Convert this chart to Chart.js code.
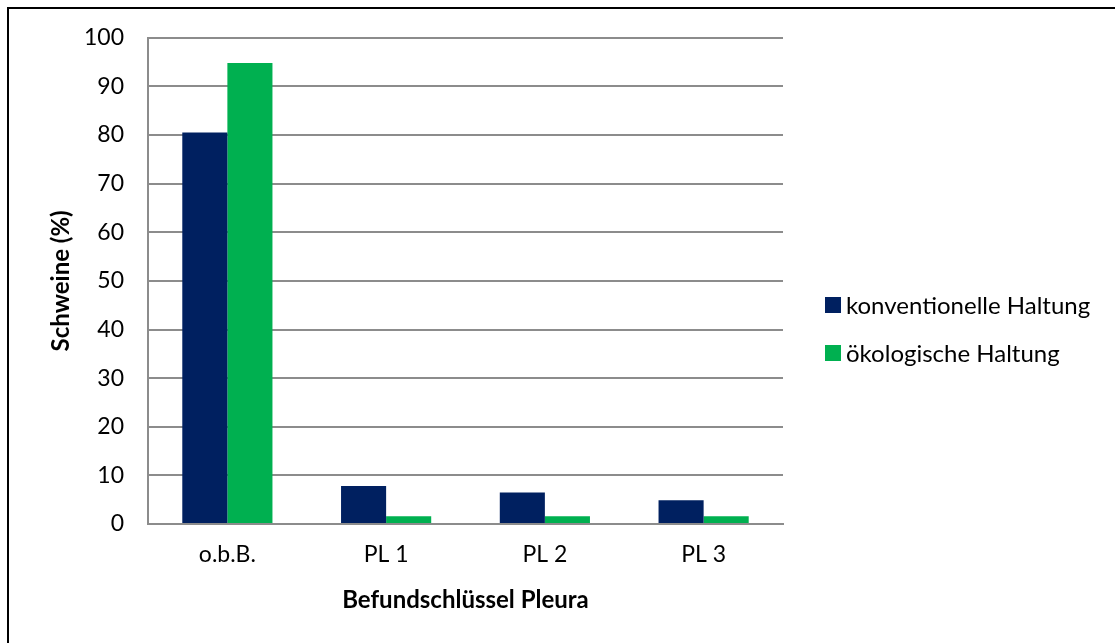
<!DOCTYPE html>
<html>
<head>
<meta charset="utf-8">
<script src="https://cdn.jsdelivr.net/npm/chart.js@4.4.1/dist/chart.umd.min.js"></script>
<style>
  html, body { margin: 0; padding: 0; background: #fff; }
  #wrap { position: relative; width: 1115px; height: 643px; overflow: hidden; }
  /* frame lines top + left */
  #frame { position: absolute; left: 7px; top: 7px; right: -10px; bottom: -10px;
           border-top: 2px solid #000; border-left: 2px solid #000; pointer-events: none; }
  canvas { position: absolute; left: 0; top: 0; }
</style>
</head>
<body>
<div id="wrap">
  <canvas id="chart" width="1115" height="643"></canvas>
  <div id="frame"></div>
</div>
<script>
// categories and values (percent of pigs)
const categories = ["o.b.B.", "PL 1", "PL 2", "PL 3"];
const konventionell = [80.5, 7.8, 6.5, 4.9];
const oekologisch = [94.8, 1.6, 1.6, 1.6];
const seriesNames = ["konventionelle Haltung", "ökologische Haltung"];
const yTicks = [0, 10, 20, 30, 40, 50, 60, 70, 80, 90, 100];

const FONT = "Lato, Calibri, 'Open Sans', sans-serif";
const BLUE = "#002060";
const GREEN = "#00B050";
const GRID = "#8c8c8c";

// legend drawn at the right side, outside the plot
const sideLegend = {
    id: "sideLegend",
    afterDraw(chart){
        const ctx = chart.ctx;
        const items = [[BLUE, seriesNames[0], 305], [GREEN, seriesNames[1], 353]];
        ctx.save();
        ctx.font = "24px " + FONT;
        ctx.textBaseline = "middle";
        items.forEach(function(it){
            ctx.fillStyle = it[0];
            ctx.fillRect(825, it[2] - 8, 16, 16);
            ctx.fillStyle = "#000";
            ctx.fillText(it[1], 846, it[2] + 1);
        });
        ctx.restore();
    }
};

new Chart(document.getElementById("chart"), {
    type: "bar",
    data: {
        labels: categories,
        datasets: [{
            label: seriesNames[0],
            data: konventionell,
            backgroundColor: BLUE,
            borderWidth: 0,
            categoryPercentage: 0.568,
            barPercentage: 1.0
        },{
            label: seriesNames[1],
            data: oekologisch,
            backgroundColor: GREEN,
            borderWidth: 0,
            categoryPercentage: 0.568,
            barPercentage: 1.0
        }]
    },
    options: {
        responsive: false,
        animation: false,
        layout: { padding: { left: 40, top: 37, right: 332, bottom: 28 } },
        plugins: {
            legend: { display: false },
            tooltip: { enabled: false }
        },
        scales: {
            x: {
                grid: { display: false, drawTicks: false },
                border: { display: true, color: GRID, width: 2 },
                ticks: { color: "#000", font: { family: FONT, size: 23 }, padding: 17 },
                title: {
                    display: true,
                    text: "Befundschlüssel Pleura",
                    color: "#000",
                    font: { family: FONT, size: 24, weight: "bold" },
                    padding: { top: 0, bottom: 0 }
                },
                afterFit(scale){ scale.height = 643 - 524 - 28; }
            },
            y: {
                min: 0,
                max: 100,
                afterBuildTicks(scale){ scale.ticks = yTicks.map(v => ({ value: v })); },
                grid: { color: GRID, lineWidth: 2, drawTicks: false },
                border: { display: true, color: GRID, width: 2 },
                ticks: { color: "#000", font: { family: FONT, size: 23 }, padding: 24 },
                title: {
                    display: true,
                    text: "Schweine (%)",
                    color: "#000",
                    font: { family: FONT, size: 24, weight: "bold" },
                    padding: { top: 7, bottom: 0 }
                },
                afterFit(scale){ scale.width = 148 - 40; }
            }
        }
    },
    plugins: [sideLegend]
});
</script>
</body>
</html>
